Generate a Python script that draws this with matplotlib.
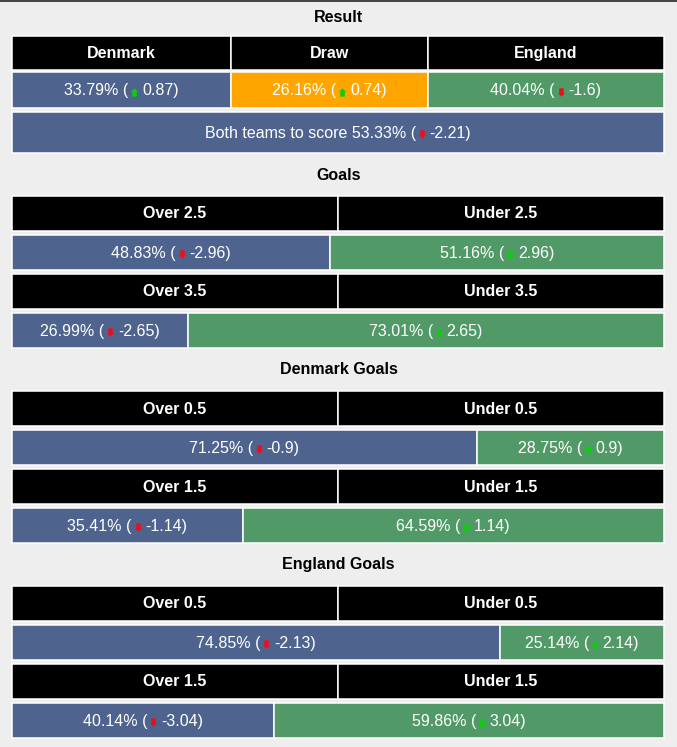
import matplotlib
matplotlib.use("Agg")
import matplotlib.pyplot as plt
from matplotlib.path import Path

plt.rcParams['font.family'] = ['Liberation Sans', 'DejaVu Sans']

# ---------------- data ----------------
result_labels = ['Denmark', 'Draw', 'England']
result_pct = [33.79, 26.16, 40.04]
result_chg = [0.87, 0.74, -1.6]

btts_label = 'Both teams to score'
btts_pct = 53.33
btts_chg = -2.21

section_titles = ['Goals', 'Denmark Goals', 'England Goals']
line_labels = [['2.5', '3.5'], ['0.5', '1.5'], ['0.5', '1.5']]
over_pct = [[48.83, 26.99], [71.25, 35.41], [74.85, 40.14]]
over_chg = [[-2.96, -2.65], [-0.9, -1.14], [-2.13, -3.04]]
under_pct = [[51.16, 73.01], [28.75, 64.59], [25.14, 59.86]]
under_chg = [[2.96, 2.65], [0.9, 1.14], [2.14, 3.04]]

# ---------------- style ----------------
BG = '#eeeeee'
BLUE = '#4e648f'
GREEN = '#519a68'
ORANGE = '#ffa500'
BLACK = '#000000'
UPC = '#0fcc0f'
DOWNC = '#ec0f1a'
FS = 11.5

W, H = 677, 747
X0, X1 = 12, 664
fig = plt.figure(figsize=(W / 100, H / 100), dpi=100, facecolor=BG)
ax = fig.add_axes([0, 0, 1, 1])
ax.set_xlim(0, W)
ax.set_ylim(H, 0)
ax.axis('off')
ax.set_facecolor(BG)

fig.canvas.draw()
renderer = fig.canvas.get_renderer()

up_path = Path([(0, 1), (0.85, 0.15), (0.55, 0.15), (0.55, -1), (-0.55, -1),
                (-0.55, 0.15), (-0.85, 0.15), (0, 1)],
               [Path.MOVETO] + [Path.LINETO] * 6 + [Path.CLOSEPOLY])
down_path = Path([(x, -y) for x, y in up_path.vertices], up_path.codes)


def cell(x, y, w, h, color):
    ax.barh(y, w, left=x, height=h, color=color, edgecolor='white',
            linewidth=1.1, align='center')


def rich(cx, cy, pre, chg):
    post = f"{chg:g})"
    t1 = ax.text(0, cy, pre, color='white', fontsize=FS, va='center', ha='left')
    t2 = ax.text(0, cy, post, color='white', fontsize=FS, va='center', ha='left')
    w1 = t1.get_window_extent(renderer).width
    w2 = t2.get_window_extent(renderer).width
    gap_l, aw, gap_r = 2.5, 6.5, 4.5
    slot = gap_l + aw + gap_r
    start = cx - (w1 + slot + w2) / 2
    t1.set_x(start)
    t2.set_x(start + w1 + slot)
    up = chg >= 0
    ax.plot([start + w1 + gap_l + aw / 2], [cy + 0.5],
            marker=up_path if up else down_path, markersize=6.0,
            color=UPC if up else DOWNC, markeredgewidth=0, linestyle='none')


def title(y, s):
    ax.text(W / 2, y, s, fontsize=FS, fontweight='bold', color='black',
            ha='center', va='center')


def header(y0, h, bounds, labels):
    for (a, b), lab in zip(bounds, labels):
        cell(a, y0 + h / 2, b - a, h, BLACK)
        ax.text((a + b) / 2, y0 + h / 2 + 0.5, lab, fontsize=FS, fontweight='bold',
                color='white', ha='center', va='center')


# top strip
ax.axhline(0.6, color='#1f2a1f', lw=1.2)

# ---------------- Result ----------------
title(17, 'Result')
res_bounds = [(X0, 231), (231, 428), (428, X1)]
header(36, 34, res_bounds, result_labels)
res_colors = [BLUE, ORANGE, GREEN]
for (a, b), p, c, col in zip(res_bounds, result_pct, result_chg, res_colors):
    cell(a, 90, b - a, 36, col)
    rich((a + b) / 2, 91, f"{p:.2f}% (", c)

cell(X0, 132.5, X1 - X0, 41, BLUE)
rich((X0 + X1) / 2, 133.5, f"{btts_label} {btts_pct:.2f}% (", btts_chg)

# ---------------- Over / Under sections ----------------
span = X1 - X0
mid = (X0 + X1) / 2
for s, name in enumerate(section_titles):
    T = 174 + 195 * s
    title(T + 1, name)
    for k in range(2):
        hy = T + 22 + 78 * k
        header(hy, 35, [(X0, mid), (mid, X1)],
               [f"Over {line_labels[s][k]}", f"Under {line_labels[s][k]}"])
        vy = hy + 39 + 17.5
        wo = span * over_pct[s][k] / 100
        wu = span * under_pct[s][k] / 100
        cell(X0, vy, wo, 35, BLUE)
        cell(X0 + wo, vy, wu, 35, GREEN)
        rich(X0 + wo / 2, vy + 1, f"{over_pct[s][k]:.2f}% (", over_chg[s][k])
        rich(X0 + wo + wu / 2, vy + 1, f"{under_pct[s][k]:.2f}% (", under_chg[s][k])

fig.savefig('out.png', dpi=100, facecolor=BG)
